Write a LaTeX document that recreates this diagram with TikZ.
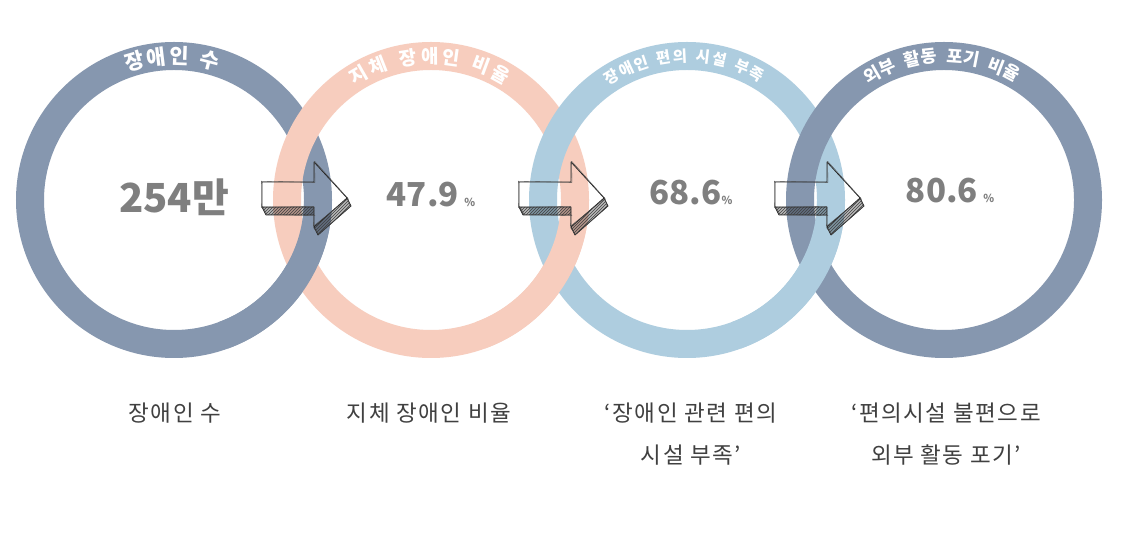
\documentclass[tikz,border=0pt]{standalone}
\usepackage{fontspec}
\setmainfont{Noto Sans CJK KR}
\usetikzlibrary{patterns}
\definecolor{ringA}{RGB}{134,151,175}
\definecolor{ringB}{RGB}{247,205,190}
\definecolor{ringC}{RGB}{174,205,223}
\definecolor{numgray}{RGB}{127,127,127}
\definecolor{labgray}{RGB}{64,64,64}
\newcommand\arcchars[4]{%
  \foreach \ch/\ang [count=\k] in {#3} {
    \path (#1) ++(\ang:144) node[#2, rotate=\ang-90] (#4\k) {\ch};
  }}
\tikzset{
  ring/.style={line width=28pt},
  sketchline/.style={draw=black!85, line width=0.8pt, line join=round},
  sketchthin/.style={draw=black!70, line width=0.35pt, line join=round},
  sideface/.style={fill=black, fill opacity=0.28},
  hatch/.style={pattern=north east lines, pattern color=black!75},
  titleA/.style={text=white, inner sep=0pt, font=\fontsize{21}{21}\selectfont\bfseries},
  titleB/.style={text=white, inner sep=0pt, font=\fontsize{19}{19}\selectfont\bfseries},
  titleC/.style={text=white, inner sep=0pt, font=\fontsize{15.5}{15.5}\selectfont\bfseries},
  titleD/.style={text=white, inner sep=0pt, font=\fontsize{17.5}{17.5}\selectfont\bfseries},
  bignum/.style={text=numgray, font=\fontsize{40}{40}\selectfont\bfseries, inner sep=0pt},
  midnum/.style={text=numgray, font=\fontsize{33}{33}\selectfont\bfseries, inner sep=0pt},
  caption/.style={text=labgray, font=\fontsize{22.5}{42}\selectfont\addfontfeatures{LetterSpace=7}, align=center, inner sep=0pt},
  sketcharrow/.pic={
    \fill[sideface] (88,-7) -- (140,-7) -- (140,-15) -- (92,-15) -- cycle;
    \fill[hatch] (88,-7) -- (140,-7) -- (140,-15) -- (92,-15) -- cycle;
    \fill[sideface] (173,2) -- (140,-27) -- (144,-35) -- (177,-6) -- cycle;
    \fill[hatch] (173,2) -- (140,-27) -- (144,-35) -- (177,-6) -- cycle;
    \draw[sketchline] (88,18) -- (140,18) -- (140,38) -- (173,2) -- (140,-27) -- (140,-7) -- (88,-7) -- cycle;
    \draw[sketchline] (88,-7) -- (92,-15) -- (140,-15);
    \draw[sketchline] (140,-27) -- (144,-35) -- (177,-6) -- (173,2);
    \draw[sketchthin] (87.3,18.8) -- (141,17.6) -- (140.6,38.8) -- (174,1.5) -- (139.4,-26.2) -- (139.5,-6.4) -- (87.6,-7.6) -- (87.4,19);
    \draw[sketchthin] (141,-15.6) -- (93,-14.4) -- (88.6,-6.2);
    \draw[sketchthin] (139.6,-27.8) -- (144.6,-34.4) -- (176.4,-6.6) -- (173.6,2.6);
  }
}
\begin{document}
\begin{tikzpicture}[x=1pt,y=1pt]
\useasboundingbox (0,0) rectangle (1142,546);
\fill[white] (0,0) rectangle (1142,546);
\coordinate (c1) at (174,346);
\coordinate (c2) at (431,346);
\coordinate (c3) at (687,346);
\coordinate (c4) at (944,346);
% rings
\draw[ring, ringA] (c1) circle[radius=144];
\draw[ring, ringB] (c2) circle[radius=144];
\draw[ring, ringC] (c3) circle[radius=144];
\draw[ring, ringA] (c4) circle[radius=144];
% interlocking: earlier ring on top at the lower crossing
\draw[ring, ringA] (c1) ++(-70:144) arc[start angle=-70, end angle=-2, radius=144];
\draw[ring, ringB] (c2) ++(-70:144) arc[start angle=-70, end angle=-2, radius=144];
\draw[ring, ringC] (c3) ++(-70:144) arc[start angle=-70, end angle=-2, radius=144];
% ring titles, one character at a time along the ring
\arcchars{c1}{titleA}{장/106, 애/97, 인/88, 수/75.5}{ta}
\arcchars{c2}{titleB}{지/120, 체/111.5, 장/99, 애/90.5, 인/82, 비/69.5, 율/61}{tb}
\arcchars{c3}{titleC}{장/121.4, 애/115, 인/108.6, 편/99.2, 의/92.8, 시/83.4, 설/77, 부/67.6, 족/61.2}{tc}
\arcchars{c4}{titleD}{외/120, 부/113.2, 활/102.9, 동/96.1, 포/85.8, 기/79, 비/68.7, 율/61.9}{td}
% arrows
\pic (a1) at (c1) {sketcharrow};
\pic (a2) at (c2) {sketcharrow};
\pic (a3) at (c3) {sketcharrow};
% numbers
\node[bignum] (n1) at (174,349) {254만};
\node[midnum] (n2) at (431,351) {47.9\,{\fontsize{11}{11}\selectfont\%}};
\node[midnum] (n3) at (691,353) {68.6{\fontsize{11}{11}\selectfont\%}};
\node[midnum] (n4) at (950,355) {80.6\,{\fontsize{11}{11}\selectfont\%}};
% captions
\node[caption] (l1) at (175,133) {장애인 수};
\node[caption] (l2) at (429,133) {지체 장애인 비율};
\node[caption] (l3) at (691,112) {‘장애인 관련 편의\\시설 부족’};
\node[caption] (l4) at (946,112) {‘편의시설 불편으로\\외부 활동 포기’};
\end{tikzpicture}
\end{document}
